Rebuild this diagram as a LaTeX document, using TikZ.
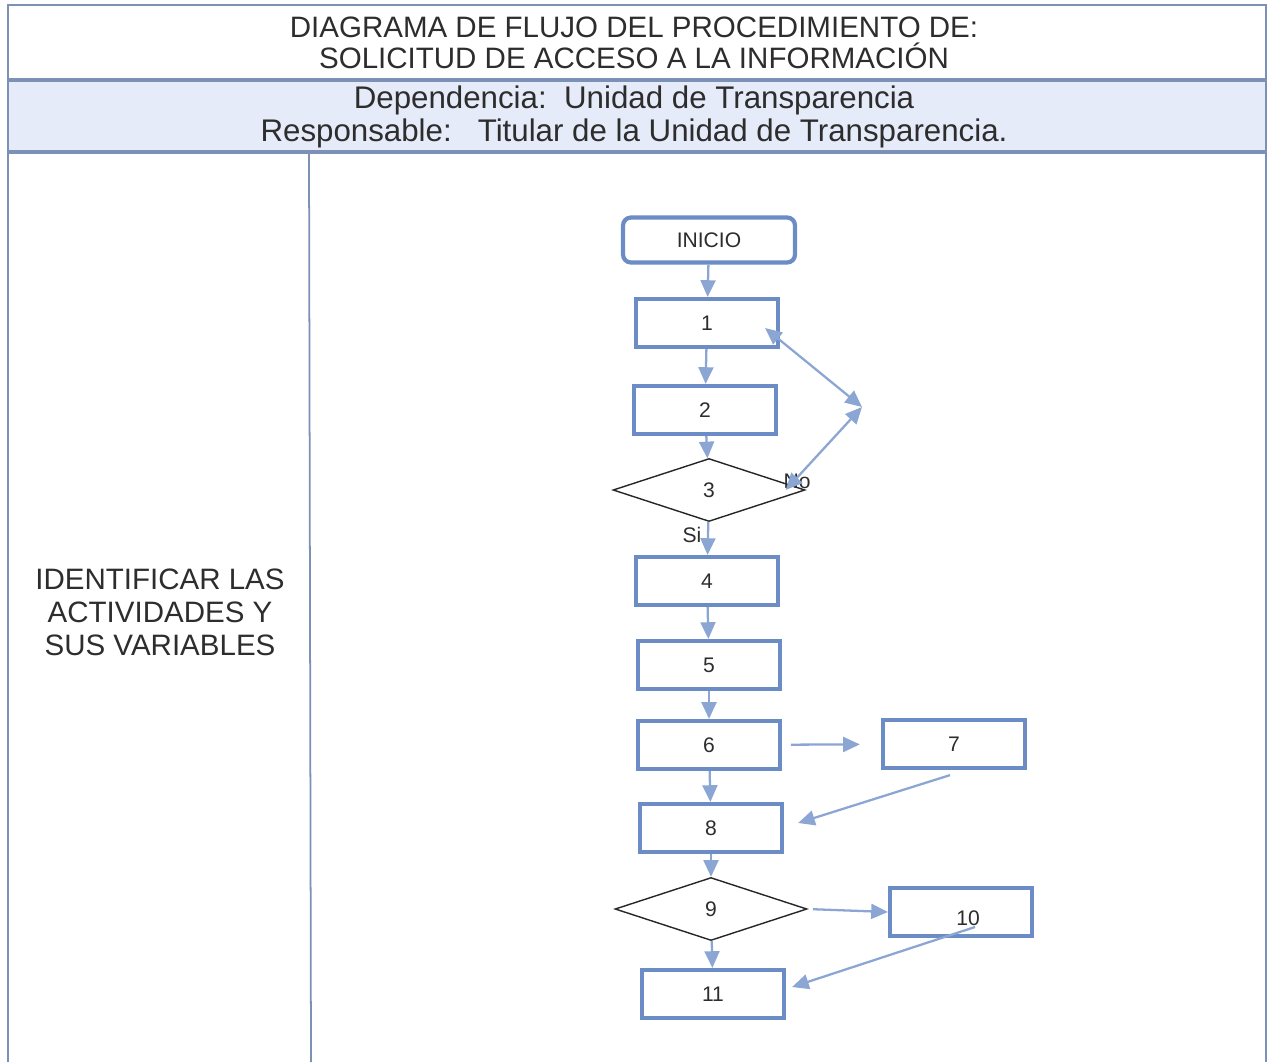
\documentclass[tikz,border=0pt]{standalone}
\usepackage{fontspec}
\setmainfont{Liberation Sans}
\usetikzlibrary{shapes.geometric,arrows.meta,calc}
\definecolor{borde}{RGB}{108,140,198}
\definecolor{azulflecha}{RGB}{140,166,212}
\definecolor{banda}{RGB}{229,235,248}
\definecolor{marco}{RGB}{125,145,182}
\definecolor{texto}{RGB}{45,45,45}

\begin{document}
\begin{tikzpicture}
  [x=0.02cm,y=-0.02cm,text=texto,
   caja/.style={draw=borde,line width=2.4pt,minimum width=2.84cm,minimum height=0.96cm,font=\fontsize{12}{14}\selectfont},
   decision/.style={diamond,draw=black!85,line width=0.8pt,aspect=3,inner sep=0pt,minimum width=3.84cm,minimum height=1.26cm,font=\fontsize{12}{14}\selectfont},
   flecha/.style={draw=azulflecha,line width=1.3pt,-{Triangle[length=9.5pt,width=8.5pt]}},
   doble/.style={draw=azulflecha,line width=1.3pt,{Triangle[length=9.5pt,width=8.5pt]}-{Triangle[length=9.5pt,width=8.5pt]}}]
  \useasboundingbox (0,0) rectangle (1270,1062);

  \fill[banda] (8,80) rectangle (1266,152);
  \draw[marco,line width=1pt] (8,1062) -- (8,5) -- (1266,5) -- (1266,1062);
  \draw[marco,line width=2pt] (8,80) -- (1266,80);
  \draw[marco,line width=2pt] (8,152) -- (1266,152);
  \draw[marco,line width=1pt] (309,152) -- (311,1062);

  \node[align=center,font=\fontsize{16.8}{17.6}\selectfont] (titulo) at (634,43)
    {DIAGRAMA DE FLUJO DEL PROCEDIMIENTO DE:\\SOLICITUD DE ACCESO A LA INFORMACIÓN};
  \node[align=center,font=\fontsize{17.8}{18.7}\selectfont] (responsable) at (634,117)
    {Dependencia:~~Unidad de Transparencia\\Responsable:~~~Titular de la Unidad de Transparencia.};
  \node[align=center,font=\fontsize{16.8}{18.7}\selectfont] (actividades) at (160,612)
    {IDENTIFICAR LAS\\ACTIVIDADES Y\\SUS VARIABLES};

  \node[caja,rounded corners=4.5pt,minimum width=3.44cm,minimum height=0.9cm] (inicio) at (709,240) {INICIO};
  \node[caja] (1) at (707,323) {1};
  \node[caja] (2) at (705,410) {2};
  \node[decision] (3) at (709,490) {3};
  \node[caja] (4) at (707,581) {4};
  \node[caja] (5) at (709,665) {5};
  \node[caja] (6) at (709,745) {6};
  \node[caja] (7) at (954,744) {7};
  \node[caja] (8) at (711,828) {8};
  \node[decision] (9) at (711,909) {9};
  \node[caja] (10) at (961,912) {};
  \node[font=\fontsize{12}{14}\selectfont] (etiq10) at (968,918) {10};
  \node[caja] (11) at (713,994) {11};

  \node[font=\fontsize{12}{14}\selectfont] (no) at (797,481) {No};
  \node[font=\fontsize{12}{14}\selectfont] (si) at (692,535) {Si};

  \coordinate (retorno) at (862,407);

  \foreach \from/\to in {inicio/1,1/2,2/3,3/4,4/5,5/6,6/8,8/9,9/11}
    \draw[flecha] (\from) -- (\to);

  \draw[flecha,shorten <=5pt,shorten >=12pt] (6) -- (7);
  \draw[flecha] ($(7.south)+(-4,5)$) -- ($(8.east)+(14,-5)$);
  \draw[flecha,shorten <=3pt] (9.east) -- (10.west);
  \draw[flecha] ($(10.center)+(14,15)$) -- ($(11.east)+(6,-7)$);
  \draw[doble] ($(1.east)+(-15,5)$) -- (retorno);
  \draw[doble] ($(3.east)+(-20,0)$) -- (retorno);

\end{tikzpicture}
\end{document}
